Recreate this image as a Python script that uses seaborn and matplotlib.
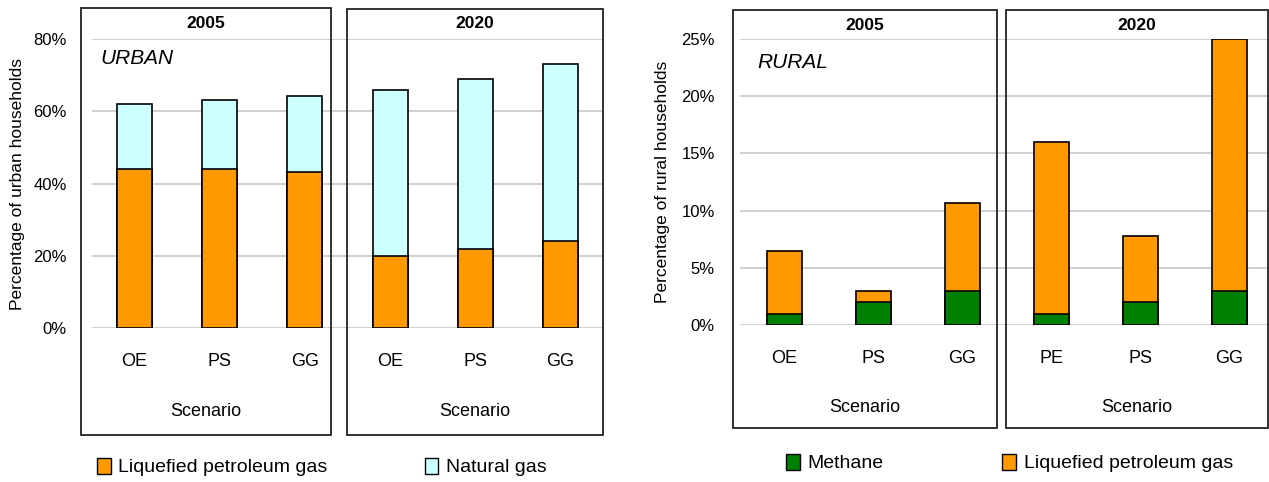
import numpy as np
import pandas as pd
import matplotlib
matplotlib.use("Agg")
import matplotlib.pyplot as plt
import seaborn as sns
from matplotlib.patches import Rectangle, Patch
from matplotlib.ticker import FuncFormatter

# data
years = ["2005", "2005", "2005", "2020", "2020", "2020"]
urban_scen = ["OE", "PS", "GG", "OE", "PS", "GG"]
urban_lpg = [44, 44, 43.3, 20, 22, 24]
urban_ng = [18, 19, 21, 46, 47, 49]

rural_scen = ["OE", "PS", "GG", "PE", "PS", "GG"]
rural_methane = [1, 2, 3, 1, 2, 3]
rural_lpg = [5.5, 1, 7.7, 15, 5.8, 22]

ORANGE = "#FF9900"
CYAN = "#CCFFFF"
GREEN = "#008000"

sns.set_theme(style="white")
plt.rcParams['font.family'] = ['Liberation Sans', 'DejaVu Sans']
plt.rcParams.update({"text.color": "black", "axes.labelcolor": "black",
                     "xtick.color": "black", "ytick.color": "black"})

W, H = 1269, 482
fig = plt.figure(figsize=(W / 100, H / 100), dpi=100)


def px_axes(x0, x1, ytop, ybot):
    return fig.add_axes([x0 / W, 1 - ybot / H, (x1 - x0) / W, (ybot - ytop) / H])


def box(x0, y0, x1, y1):
    fig.patches.append(Rectangle((x0 / W, 1 - y1 / H), (x1 - x0) / W, (y1 - y0) / H,
                                 transform=fig.transFigure, fill=False,
                                 edgecolor="#222222", linewidth=1.3, zorder=5))


def stacked(ax, scen, bottom, top, cb, ct, ymax, step, width):
    keys = [f"{y} {s}" for y, s in zip(years, scen)]
    df = pd.DataFrame({"key": keys, "bottom": bottom,
                       "total": np.array(bottom) + np.array(top)})
    sns.barplot(data=df, x="key", y="total", order=keys, color=ct, saturation=1,
                edgecolor="black", linewidth=1.2, width=width, ax=ax, zorder=3)
    sns.barplot(data=df, x="key", y="bottom", order=keys, color=cb, saturation=1,
                edgecolor="black", linewidth=1.2, width=width, ax=ax, zorder=3)
    ax.set_ylim(0, ymax)
    ax.set_xlim(-0.5, 5.5)
    ax.set_yticks(np.arange(0, ymax + 0.1, step))
    ax.yaxis.set_major_formatter(FuncFormatter(lambda v, p: f"{v:.0f}%"))
    ax.grid(axis="y", color="#c8c8c8", linewidth=1.2, zorder=0)
    ax.set_axisbelow(True)
    for s in ax.spines.values():
        s.set_visible(False)
    ax.set_xticks(range(6))
    ax.set_xticklabels(scen, fontsize=13)
    ax.tick_params(axis="x", length=0, pad=18)
    ax.tick_params(axis="y", length=0, pad=18, labelsize=12)
    ax.set_xlabel("")


# ---- urban
ax1 = px_axes(92, 603, 39, 328)
stacked(ax1, urban_scen, urban_lpg, urban_ng, ORANGE, CYAN, 80, 20, 0.41)
ax1.set_ylabel("Percentage of urban households", fontsize=12.5, labelpad=6)
box(81, 8, 331, 435)
box(347, 9, 603, 435)
for xc, yr in [(206, "2005"), (475, "2020")]:
    fig.text(xc / W, 1 - 23 / H, yr, ha="center", va="center", fontsize=12.5, fontweight="bold")
    fig.text(xc / W, 1 - 411 / H, "Scenario", ha="center", va="center", fontsize=13)
fig.text(100 / W, 1 - 58 / H, "URBAN", ha="left", va="center", fontsize=15, style="italic")
fig.legend(handles=[Patch(facecolor=ORANGE, edgecolor="black", label="Liquefied petroleum gas"),
                    Patch(facecolor=CYAN, edgecolor="black", label="Natural gas")],
           loc="center left", bbox_to_anchor=(97 / W, 1 - 467 / H), ncol=2, frameon=False,
           fontsize=14, handlelength=0.7, handleheight=0.9, handletextpad=0.4,
           columnspacing=5.0, borderaxespad=0, borderpad=0)

# ---- rural
ax2 = px_axes(740, 1274, 39, 325)
stacked(ax2, rural_scen, rural_methane, rural_lpg, GREEN, ORANGE, 25, 5, 0.4)
ax2.set_ylabel("Percentage of rural households", fontsize=12.5, labelpad=8)
box(733, 10, 997, 428)
box(1006, 10, 1268, 428)
for xc, yr in [(865, "2005"), (1137, "2020")]:
    fig.text(xc / W, 1 - 25 / H, yr, ha="center", va="center", fontsize=12.5, fontweight="bold")
    fig.text(xc / W, 1 - 407 / H, "Scenario", ha="center", va="center", fontsize=13)
fig.text(757 / W, 1 - 62 / H, "RURAL", ha="left", va="center", fontsize=15, style="italic")
fig.legend(handles=[Patch(facecolor=GREEN, edgecolor="black", label="Methane"),
                    Patch(facecolor=ORANGE, edgecolor="black", label="Liquefied petroleum gas")],
           loc="center left", bbox_to_anchor=(786 / W, 1 - 463 / H), ncol=2, frameon=False,
           fontsize=14, handlelength=0.7, handleheight=0.9, handletextpad=0.4,
           columnspacing=6.1, borderaxespad=0, borderpad=0)

fig.savefig("out.png", dpi=100)
